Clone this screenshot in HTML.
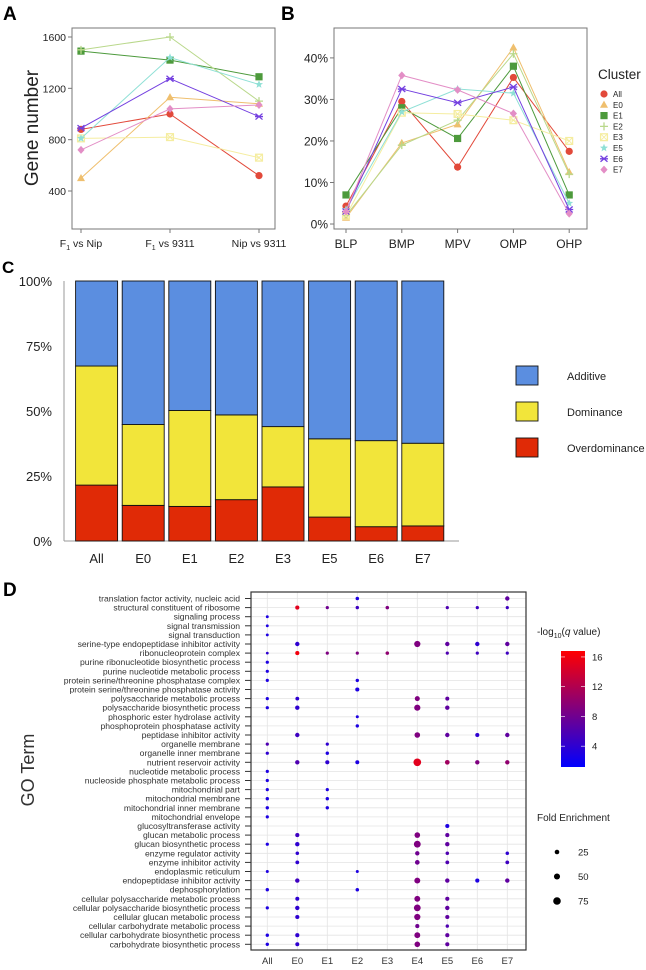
<!DOCTYPE html>
<html><head><meta charset="utf-8"><style>
html,body{margin:0;padding:0;background:#fff;}
svg{display:block;font-family:"Liberation Sans",Arial,sans-serif;}
</style></head><body>
<svg id="fig" width="646" height="970" viewBox="0 0 646 970">
<text x="3" y="20" font-size="19" font-weight="bold">A</text>
<text x="281" y="20" font-size="19" font-weight="bold">B</text>
<text x="2" y="273" font-size="17" font-weight="bold">C</text>
<text x="3" y="596" font-size="19" font-weight="bold">D</text>
</svg>
<script>
// ---------- Panel A data ----------
const aCats = ["F1 vs Nip","F1 vs 9311","Nip vs 9311"];
const aTicks = [400,800,1200,1600];
const clusters = ["All","E0","E1","E2","E3","E5","E6","E7"];
const aAll = [880,1000,520];
const aE0 = [500,1130,1080];
const aE1 = [1490,1420,1290];
const aE2 = [1500,1600,1100];
const aE3 = [810,820,660];
const aE5 = [810,1440,1230];
const aE6 = [890,1275,980];
const aE7 = [720,1040,1070];
// ---------- Panel B data ----------
const bCats = ["BLP","BMP","MPV","OMP","OHP"];
const bTicks = [0,10,20,30,40];
const bAll = [4.3,29.5,13.7,35.3,17.5];
const bE0 = [1.5,19.5,24,42.5,12.5];
const bE1 = [7,28,20.6,38,7];
const bE2 = [2,19,25,41,12];
const bE3 = [2,26.8,26.5,25,20];
const bE5 = [3.5,27,32.5,31.5,5];
const bE6 = [3,32.5,29.2,33,3.5];
const bE7 = [3,35.8,32.3,26.6,2.5];
// ---------- Panel C data ----------
const cCats = ["All","E0","E1","E2","E3","E5","E6","E7"];
const cOver = [21.5,13.7,13.3,15.9,20.8,9.2,5.5,5.8];
const cDom = [45.8,31.1,36.9,32.6,23.2,30.1,33.1,31.8];
const cAdd = [32.7,55.2,49.8,51.5,56,60.7,61.4,62.4];
const cTicks = [0,25,50,75,100];
// ---------- Panel D data ----------
const dCols = ["All","E0","E1","E2","E3","E4","E5","E6","E7"];
const dTerms = ["translation factor activity, nucleic acid","structural constituent of ribosome","signaling process","signal transmission","signal transduction","serine-type endopeptidase inhibitor activity","ribonucleoprotein complex","purine ribonucleotide biosynthetic process","purine nucleotide metabolic process","protein serine/threonine phosphatase complex","protein serine/threonine phosphatase activity","polysaccharide metabolic process","polysaccharide biosynthetic process","phosphoric ester hydrolase activity","phosphoprotein phosphatase activity","peptidase inhibitor activity","organelle membrane","organelle inner membrane","nutrient reservoir activity","nucleotide metabolic process","nucleoside phosphate metabolic process","mitochondrial part","mitochondrial membrane","mitochondrial inner membrane","mitochondrial envelope","glucosyltransferase activity","glucan metabolic process","glucan biosynthetic process","enzyme regulator activity","enzyme inhibitor activity","endoplasmic reticulum","endopeptidase inhibitor activity","dephosphorylation","cellular polysaccharide metabolic process","cellular polysaccharide biosynthetic process","cellular glucan metabolic process","cellular carbohydrate metabolic process","cellular carbohydrate biosynthetic process","carbohydrate biosynthetic process"];
// [row, col, fold enrichment, -log10 q]
const dPoints = [
[0,3,20,3],[0,8,35,7],
[1,1,30,15],[1,2,15,8],[1,3,18,5],[1,4,20,9],[1,6,15,6],[1,7,15,5],[1,8,15,5],
[2,0,10,3],[3,0,10,3],[4,0,10,3],
[5,1,35,4],[5,5,65,9],[5,6,35,7],[5,7,35,4],[5,8,35,7],
[6,0,8,4],[6,1,30,16],[6,2,15,9],[6,3,15,9],[6,4,20,10],[6,6,15,6],[6,7,15,5],[6,8,15,5],
[7,0,15,3],[8,0,15,3],[9,0,15,3],[9,3,18,3],[10,3,30,3],
[11,0,15,3],[11,1,25,4],[11,5,45,9],[11,6,28,7],
[12,0,15,3],[12,1,35,4],[12,5,65,9],[12,6,35,7],
[13,3,12,3],[14,3,18,3],
[15,1,35,5],[15,5,55,9],[15,6,35,7],[15,7,30,4],[15,8,35,7],
[16,0,15,6],[16,2,15,4],[17,0,15,4],[17,2,18,3],
[18,1,35,6],[18,2,30,4],[18,3,28,3],[18,5,90,15],[18,6,40,11],[18,7,35,9],[18,8,35,10],
[19,0,15,3],[20,0,15,3],[21,0,15,3],[21,2,15,3],[22,0,18,3],[22,2,18,3],[23,0,18,3],[23,2,18,3],[24,0,15,3],
[25,6,30,3],
[26,1,30,5],[26,5,55,9],[26,6,30,7],
[27,0,15,3],[27,1,35,4],[27,5,75,9],[27,6,35,7],
[28,1,20,4],[28,5,35,8],[28,6,20,6],[28,8,20,4],
[29,1,25,4],[29,5,40,8],[29,6,25,6],[29,8,25,5],
[30,0,12,3],[30,3,12,3],
[31,1,35,5],[31,5,60,9],[31,6,35,7],[31,7,30,3],[31,8,35,7],
[32,0,18,3],[32,3,20,3],
[33,1,28,4],[33,5,60,9],[33,6,30,7],
[34,0,15,3],[34,1,35,4],[34,5,75,9],[34,6,35,7],
[35,1,30,4],[35,5,65,9],[35,6,30,7],
[36,5,30,8],[36,6,18,6],
[37,0,18,3],[37,1,30,4],[37,5,60,9],[37,6,30,7],
[38,0,18,3],[38,1,28,4],[38,5,55,9],[38,6,30,7]
];
const qTicks = [4,8,12,16];
const foldLegend = [25,50,75];

const NS="http://www.w3.org/2000/svg";
const svg=document.getElementById('fig');
function mk(tag,attrs,parent){const e=document.createElementNS(NS,tag);for(const k in attrs)e.setAttribute(k,attrs[k]);(parent||svg).appendChild(e);return e;}
function txt(x,y,s,size,anchor,parent,extra){const e=mk('text',Object.assign({x:x,y:y,'font-size':size,'text-anchor':anchor||'start',fill:'#222'},extra||{}),parent);e.textContent=s;return e;}

const cColors={All:'#e2493a',E0:'#efbf6e',E1:'#4d9a3c',E2:'#b9d88b',E3:'#f5eda0',E5:'#8fe0d6',E6:'#7440e0',E7:'#e38ec6'};
function marker(g,name,x,y){
  const c=cColors[name];let e;
  if(name==='All'){e=mk('circle',{cx:x,cy:y,r:3.6,fill:c},g);}
  else if(name==='E0'){e=mk('polygon',{points:`${x},${y-4.2} ${x+4},${y+3} ${x-4},${y+3}`,fill:c},g);}
  else if(name==='E1'){e=mk('rect',{x:x-3.6,y:y-3.6,width:7.2,height:7.2,fill:c},g);}
  else if(name==='E2'){e=mk('path',{d:`M${x-4},${y}H${x+4}M${x},${y-4}V${y+4}`,stroke:c,'stroke-width':1.3},g);}
  else if(name==='E3'){e=mk('rect',{x:x-3.4,y:y-3.4,width:6.8,height:6.8,fill:'none',stroke:c,'stroke-width':1.3},g);mk('path',{d:`M${x-3},${y-3}L${x+3},${y+3}M${x+3},${y-3}L${x-3},${y+3}`,stroke:c,'stroke-width':1},g);}
  else if(name==='E5'){let p=[];for(let i=0;i<10;i++){const a=-Math.PI/2+i*Math.PI/5,r=i%2?1.8:4.2;p.push((x+r*Math.cos(a)).toFixed(1)+','+(y+r*Math.sin(a)).toFixed(1));}e=mk('polygon',{points:p.join(' '),fill:c},g);}
  else if(name==='E6'){e=mk('path',{d:`M${x-3.5},${y-3}L${x+3.5},${y+3}M${x+3.5},${y-3}L${x-3.5},${y+3}M${x-4},${y}H${x+4}`,stroke:c,'stroke-width':1.3},g);}
  else {e=mk('polygon',{points:`${x},${y-4} ${x+3.6},${y} ${x},${y+4} ${x-3.6},${y}`,fill:c},g);}
  
  
  return e;
}

// ---------- Panel A ----------
(function(){
  const g=mk('g',{});
  
  
  const L=72,R=275,T=28,B=229,ymin=104,ymax=1670;
  const xs=i=>81+i*89, ys=v=>B-(v-ymin)/(ymax-ymin)*(B-T);
  const fr=mk('rect',{x:L,y:T,width:R-L,height:B-T,fill:'none',stroke:'#777','stroke-width':1},g);
  
  
  aTicks.forEach(t=>{mk('line',{x1:L-4,x2:L,y1:ys(t),y2:ys(t),stroke:'#777'},g);
    const e=txt(L-6,ys(t)+4,String(t),10.5,'end',g);
    
    });
  aCats.forEach((c,i)=>{mk('line',{x1:xs(i),x2:xs(i),y1:B,y2:B+4,stroke:'#777'},g);
    const e=mk('text',{x:xs(i),y:247,'font-size':10.5,'text-anchor':'middle',fill:'#222'},g);
    const parts=c.split(' ');
    if(parts[0]==='F1'){e.appendChild(document.createTextNode('F'));const s=mk('tspan',{'font-size':7,dy:3},e);s.textContent='1';const r=mk('tspan',{dy:-3},e);r.textContent=' '+parts.slice(1).join(' ');}
    else e.textContent=c;
    
    });
  const yt=txt(0,0,'Gene number',19,'middle',g,{transform:'translate(38,128) rotate(-90)'});
  
  
  const series={All:aAll,E0:aE0,E1:aE1,E2:aE2,E3:aE3,E5:aE5,E6:aE6,E7:aE7};
  clusters.forEach(n=>{const d=series[n];
    const pl=mk('polyline',{points:d.map((v,i)=>xs(i)+','+ys(v)).join(' '),fill:'none',stroke:cColors[n],'stroke-width':1},g);
    
    
    d.forEach((v,i)=>marker(g,n,xs(i),ys(v)));});
})();

// ---------- Panel B ----------
(function(){
  const g=mk('g',{});
  
  
  const L=334,R=587,T=28,B=229,ymin=-1.2,ymax=47.2;
  const xs=i=>346+i*55.8, ys=v=>B-(v-ymin)/(ymax-ymin)*(B-T);
  const fr=mk('rect',{x:L,y:T,width:R-L,height:B-T,fill:'none',stroke:'#777'},g);
  
  
  bTicks.forEach(t=>{mk('line',{x1:L-4,x2:L,y1:ys(t),y2:ys(t),stroke:'#777'},g);
    const e=txt(L-6,ys(t)+4.5,t+'%',12,'end',g);
    
    });
  bCats.forEach((c,i)=>{mk('line',{x1:xs(i),x2:xs(i),y1:B,y2:B+4,stroke:'#777'},g);
    const e=txt(xs(i),248,c,12,'middle',g);
    
    });
  const series={All:bAll,E0:bE0,E1:bE1,E2:bE2,E3:bE3,E5:bE5,E6:bE6,E7:bE7};
  clusters.forEach(n=>{const d=series[n];
    const pl=mk('polyline',{points:d.map((v,i)=>xs(i)+','+ys(v)).join(' '),fill:'none',stroke:cColors[n],'stroke-width':1},g);
    
    
    d.forEach((v,i)=>marker(g,n,xs(i),ys(v)));});
  const lt=txt(598,79,'Cluster',13.5,'start',g);
  
  
  clusters.forEach((n,i)=>{const y=94+i*10.8;marker(g,n,604,y);
    const e=txt(613,y+3,n,8,'start',g);
    
    });
})();

// ---------- Panel C ----------
(function(){
  const g=mk('g',{});
  
  
  const T=281,B=541,X0=64;
  const ys=v=>B-v/100*(B-T);
  cTicks.forEach(t=>{const e=txt(52,ys(t)+5,t+'%',13,'end',g);
    
    });
  mk('line',{x1:X0,x2:X0,y1:T,y2:B,stroke:'#999'},g);
  mk('line',{x1:X0,x2:459,y1:B,y2:B,stroke:'#999'},g);
  const cols=['#e02a06','#f2e53a','#5b8ee0'];const names=['overdominance','dominance','additive'];
  cCats.forEach((c,i)=>{const x=75.6+i*46.6;let base=0;
    [cOver[i],cDom[i],cAdd[i]].forEach((v,k)=>{
      const r=mk('rect',{x:x,y:ys(base+v),width:42,height:ys(base)-ys(base+v),fill:cols[k],stroke:'#111','stroke-width':0.9},g);
      
      
      base+=v;});
    const e=txt(x+21,563,c,13,'middle',g);
    
    });
  ['Additive','Dominance','Overdominance'].forEach((n,i)=>{const y=366+i*36;
    const r=mk('rect',{x:516,y:y,width:22,height:19,fill:cols[2-i],stroke:'#111','stroke-width':0.9},g);
    
    
    const e=txt(567,y+14,n,11,'start',g);
    
    });
})();

// ---------- Panel D ----------
(function(){
  const g=mk('g',{});
  
  
  const L=251,R=526,T=592,B=950;
  const xs=i=>267.3+i*30, ys=i=>598.5+i*9.1;
  const qmin=1.2,qmax=16.8;
  const col=q=>{const t=Math.max(0,Math.min(1,(q-qmin)/(qmax-qmin)));return `rgb(${Math.round(255*t)},0,${Math.round(255*(1-t))})`;};
  const rad=f=>1.15+0.03*f;
  dTerms.forEach((s,i)=>{mk('line',{x1:L,x2:R,y1:ys(i),y2:ys(i),stroke:'#e4e4e4','stroke-width':0.8},g);
    mk('line',{x1:L-6,x2:L,y1:ys(i),y2:ys(i),stroke:'#333','stroke-width':1},g);
    const e=txt(240,ys(i)+3,s,8.6,'end',g,{fill:'#333'});
    
    });
  dCols.forEach((c,i)=>{mk('line',{x1:xs(i),x2:xs(i),y1:T,y2:B,stroke:'#e4e4e4','stroke-width':0.8},g);
    const e=txt(xs(i),964,c,9.5,'middle',g,{fill:'#333'});
    
    });
  const fr=mk('rect',{x:L,y:T,width:R-L,height:B-T,fill:'none',stroke:'#333','stroke-width':1.2},g);
  
  
  dPoints.forEach(p=>{const c=mk('circle',{cx:xs(p[1]),cy:ys(p[0]),r:rad(p[2]),fill:col(p[3])},g);
    
    });
  const yt=txt(0,0,'GO Term',18,'middle',g,{transform:'translate(34,770) rotate(-90)',fill:'#333'});
  
  
  const defs=mk('defs',{},g);const lg=mk('linearGradient',{id:'qg',x1:0,y1:1,x2:0,y2:0},defs);
  mk('stop',{offset:0,'stop-color':'#0000ff'},lg);mk('stop',{offset:1,'stop-color':'#ff0000'},lg);
  const ct=mk('text',{x:537,y:635,'font-size':10,fill:'#222'},g);
  ct.innerHTML='-log<tspan font-size="7" dy="3">10</tspan><tspan dy="-3">(</tspan><tspan font-style="italic">q</tspan> value)';
  
  
  const cb=mk('rect',{x:561,y:651,width:24,height:116,fill:'url(#qg)'},g);
  
  
  const cy=q=>767-(q-qmin)/(qmax-qmin)*116;
  qTicks.forEach(q=>{mk('line',{x1:561,x2:565,y1:cy(q),y2:cy(q),stroke:'#fff','stroke-width':0.6},g);mk('line',{x1:581,x2:585,y1:cy(q),y2:cy(q),stroke:'#fff','stroke-width':0.6},g);
    const e=txt(592,cy(q)+3.5,String(q),9.5,'start',g);
    
    });
  const ft=txt(537,821,'Fold Enrichment',10,'start',g);
  
  
  foldLegend.forEach((f,i)=>{const y=852+i*24.5;
    const c=mk('circle',{cx:557,cy:y,r:rad(f)+0.4,fill:'#000'},g);
    
    
    const e=txt(578,y+3.5,String(f),9.5,'start',g);
    
    });
})();
</script>
</body></html>
